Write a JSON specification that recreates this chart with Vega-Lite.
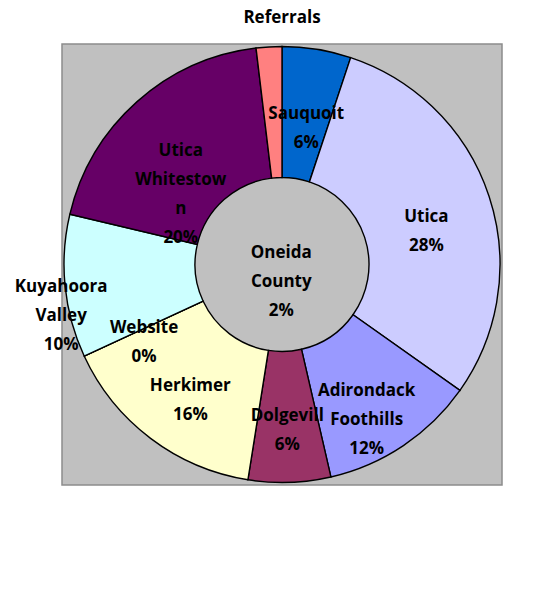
{
  "$schema": "https://vega.github.io/schema/vega-lite/v6.json",
  "width": 440,
  "height": 441,
  "autosize": "none",
  "padding": {"left": 62, "top": 44, "right": 40, "bottom": 104},
  "background": "white",
  "title": {
    "text": "Referrals",
    "font": "Open Sans",
    "fontSize": 17,
    "fontWeight": "bold",
    "color": "black",
    "anchor": "middle",
    "baseline": "alphabetic",
    "offset": -6
  },
  "view": {"fill": "#C0C0C0", "stroke": "#8C8C8C", "strokeWidth": 1.5},
  "data": {
    "values": [
      {"source": "Sauquoit", "value": 5.1, "label": ["Sauquoit", "6%"]},
      {"source": "Utica", "value": 29.7, "label": ["Utica", "28%"]},
      {"source": "Adirondack Foothills", "value": 11.6, "label": ["Adirondack", "Foothills", "12%"]},
      {"source": "Dolgevill", "value": 6.1, "label": ["Dolgevill", "6%"]},
      {"source": "Herkimer", "value": 15.6, "label": ["Herkimer", "16%"]},
      {"source": "Website", "value": 0, "label": ["Website", "0%"]},
      {"source": "Kuyahoora Valley", "value": 10.6, "label": ["Kuyahoora", "Valley", "10%"]},
      {"source": "Utica-Whitestown", "value": 19.4, "label": ["Utica", "Whitestow", "n", "20%"]},
      {"source": "Oneida County", "value": 1.9, "label": ["Oneida", "County", "2%"]}
    ]
  },
  "transform": [
    {"window": [{"op": "row_number", "as": "rank"}]}
  ],
  "encoding": {
    "theta": {"field": "value", "type": "quantitative", "stack": true},
    "order": {"field": "rank", "type": "quantitative", "sort": "ascending"},
    "color": {
      "field": "source",
      "type": "nominal",
      "scale": {
        "domain": ["Sauquoit", "Utica", "Adirondack Foothills", "Dolgevill", "Herkimer", "Website", "Kuyahoora Valley", "Utica-Whitestown", "Oneida County"],
        "range": ["#0066CC", "#CCCCFF", "#9999FF", "#993366", "#FFFFCC", "#000080", "#CCFFFF", "#660066", "#FF8080"]
      },
      "legend": null
    }
  },
  "layer": [
    {
      "mark": {"type": "arc", "radius": 218, "radius2": 87, "stroke": "black", "strokeWidth": 1.4}
    },
    {
      "mark": {"type": "text", "radius": 152, "font": "Open Sans", "fontSize": 17, "fontWeight": "bold", "lineHeight": 29, "baseline": "middle", "align": "center"},
      "encoding": {
        "text": {
          "condition": {"test": "datum.source !== 'Oneida County' && datum.source !== 'Kuyahoora Valley'", "field": "label"},
          "value": ""
        },
        "color": {"value": "black"}
      }
    },
    {
      "mark": {"type": "text", "radius": 12, "font": "Open Sans", "fontSize": 17, "fontWeight": "bold", "lineHeight": 29, "baseline": "middle", "align": "center"},
      "encoding": {
        "text": {
          "condition": {"test": "datum.source === 'Oneida County'", "field": "label"},
          "value": ""
        },
        "color": {"value": "black"}
      }
    },
    {
      "mark": {"type": "text", "radius": 222, "font": "Open Sans", "fontSize": 17, "fontWeight": "bold", "lineHeight": 29, "baseline": "middle", "align": "center"},
      "encoding": {
        "text": {
          "condition": {"test": "datum.source === 'Kuyahoora Valley'", "field": "label"},
          "value": ""
        },
        "color": {"value": "black"}
      }
    }
  ]
}
